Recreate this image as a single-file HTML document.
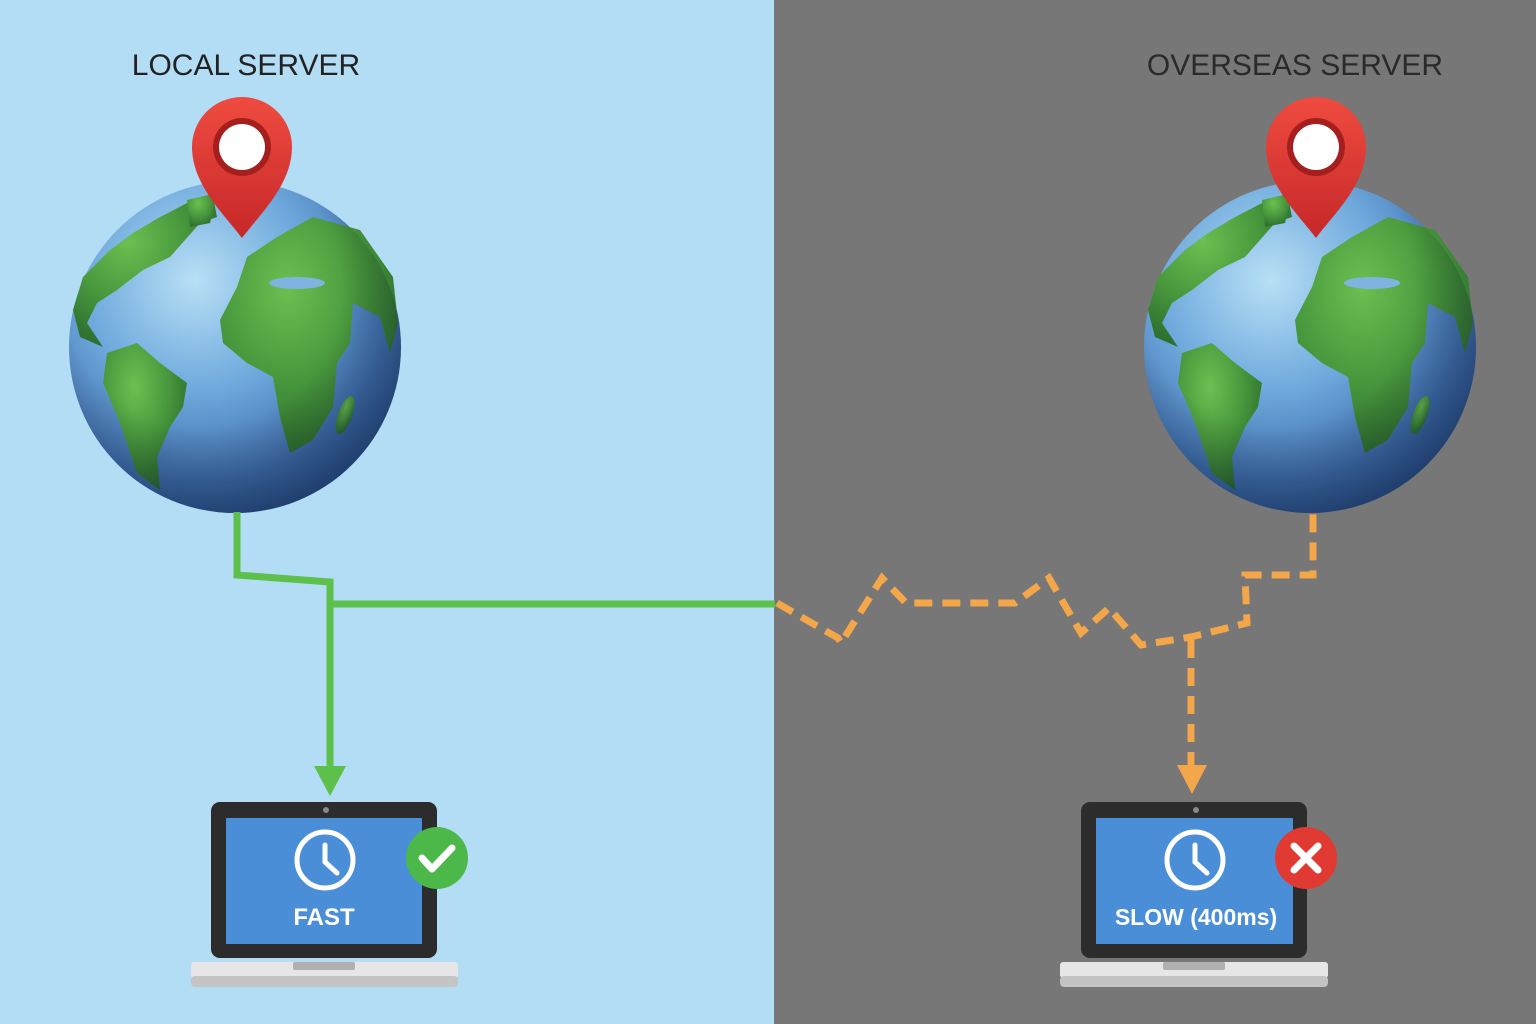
<!DOCTYPE html>
<html><head><meta charset="utf-8"><style>
html,body{margin:0;padding:0;width:1536px;height:1024px;overflow:hidden}
svg{display:block}
</style></head><body>
<svg width="1536" height="1024" viewBox="0 0 1536 1024" xmlns="http://www.w3.org/2000/svg">
<defs>
<radialGradient id="ocean" cx="0.38" cy="0.3" r="0.75">
<stop offset="0" stop-color="#b8e0f6"/><stop offset="0.45" stop-color="#6ea8dc"/><stop offset="0.8" stop-color="#3f6fae"/><stop offset="1" stop-color="#2a4f86"/></radialGradient>
<radialGradient id="land" cx="0.38" cy="0.3" r="0.75">
<stop offset="0" stop-color="#6cbf50"/><stop offset="0.5" stop-color="#4a9a3e"/><stop offset="1" stop-color="#2a6a2c"/></radialGradient>
<radialGradient id="shade" cx="0.4" cy="0.32" r="0.7">
<stop offset="0.6" stop-color="#000" stop-opacity="0"/><stop offset="1" stop-color="#0a1a3a" stop-opacity="0.35"/></radialGradient>
<linearGradient id="pinG" x1="0" y1="0" x2="0" y2="1"><stop offset="0" stop-color="#ef4b40"/><stop offset="1" stop-color="#c62828"/></linearGradient>
<g id="globe">
<circle r="166" fill="url(#ocean)"/>
<g fill="url(#land)">
<path d="M2,-60 L12,-90 L42,-110 L78,-130 L125,-117 L158,-70 L163,-24 L155,6 L145,-30 L118,-44 L115,-4 L102,16 L98,60 L78,93 L55,106 L45,70 L38,30 L12,16 L-12,-4 L-15,-27 Z"/>
<path d="M-102,-114 L-75,-130 L-42,-147 L-22,-150 L-18,-130 L-35,-124 L-65,-90 L-92,-77 L-118,-57 L-138,-44 L-148,-24 L-132,0 L-155,-10 L-162,-37 L-152,-70 L-125,-97 Z"/>
<path d="M-128,6 L-98,-4 L-75,16 L-48,36 L-52,60 L-65,80 L-78,110 L-75,143 L-98,126 L-115,76 L-132,36 Z"/>
<path d="M-48,-147 L-18,-154 L-25,-124 L-45,-120 Z"/>
<ellipse cx="110" cy="68" rx="7" ry="20" transform="rotate(20 110 68)"/>
</g>
<ellipse cx="62" cy="-64" rx="28" ry="6" fill="#7fb4e0"/>
<circle r="166" fill="url(#shade)"/>
</g>
<g id="pin">
<path d="M0,91 C-17,68 -50,38 -50,0 A50,50 0 1 1 50,0 C50,38 17,68 0,91 Z" fill="url(#pinG)"/>
<circle r="29" fill="#a51f1f"/><circle r="23" fill="#fff"/>
</g>
<g id="clock" fill="none" stroke="#fff" stroke-width="5" stroke-linecap="round">
<circle r="28"/><path d="M0,-15 L0,2 L12,13"/>
</g>
</defs>
<rect x="0" y="0" width="774" height="1024" fill="#b3dcf5"/>
<rect x="774" y="0" width="762" height="1024" fill="#777777"/>
<text x="246" y="75" font-family="Liberation Sans, sans-serif" font-size="30" fill="#222" text-anchor="middle">LOCAL SERVER</text>
<text x="1295" y="75" font-family="Liberation Sans, sans-serif" font-size="30" fill="#2a2a2a" text-anchor="middle">OVERSEAS SERVER</text>
<use href="#globe" transform="translate(235,347)"/>
<use href="#globe" transform="translate(1310,347)"/>
<use href="#pin" transform="translate(242,147)"/>
<use href="#pin" transform="translate(1316,147)"/>
<!-- green connector -->
<g fill="none" stroke="#5cc04a" stroke-width="7">
<path d="M237,512 L237,575 L330,582 L330,770"/>
<path d="M330,604 L775,604"/>
</g>
<path d="M314,766 L346,766 L330,796 Z" fill="#5cc04a"/>
<!-- orange dashed -->
<g fill="none" stroke="#f3a64a" stroke-width="7" stroke-dasharray="18,10">
<path d="M777,603 L838,638 L841,643 L882,578 L906,603 L1015,603 L1049,578 L1081,633 L1109,608 L1141,645 L1191,637 L1247,623 L1245,575 L1313,575 L1313,512"/>
<path d="M1191,640 L1191,765"/>
</g>
<path d="M1177,765 L1207,765 L1192,794 Z" fill="#f3a64a"/>
<!-- left laptop -->
<rect x="211" y="802" width="226" height="156" rx="9" fill="#2c2c2c"/>
<rect x="226" y="818" width="196" height="126" fill="#4a8ed8"/>
<circle cx="326" cy="810" r="3" fill="#888"/>
<rect x="191" y="962" width="267" height="16" rx="3" fill="#e6e6e6"/>
<rect x="191" y="976" width="267" height="11" rx="4" fill="#c4c4c4"/>
<rect x="293" y="962" width="62" height="8" rx="2" fill="#b0b0b0"/>
<use href="#clock" transform="translate(325,860)"/>
<text x="324" y="925" font-family="Liberation Sans, sans-serif" font-weight="bold" font-size="24" fill="#fff" text-anchor="middle">FAST</text>
<circle cx="437" cy="858" r="31" fill="#4cb84a"/>
<path d="M422,858 L432,869 L452,848" fill="none" stroke="#fff" stroke-width="7" stroke-linecap="round" stroke-linejoin="round"/>
<!-- right laptop -->
<rect x="1081" y="802" width="226" height="156" rx="9" fill="#2c2c2c"/>
<rect x="1096" y="818" width="197" height="126" fill="#4a8ed8"/>
<circle cx="1196" cy="810" r="3" fill="#888"/>
<rect x="1060" y="962" width="268" height="16" rx="3" fill="#e6e6e6"/>
<rect x="1060" y="976" width="268" height="11" rx="4" fill="#c4c4c4"/>
<rect x="1163" y="962" width="62" height="8" rx="2" fill="#b0b0b0"/>
<use href="#clock" transform="translate(1195,860)"/>
<text x="1196" y="925" font-family="Liberation Sans, sans-serif" font-weight="bold" font-size="23" fill="#fff" text-anchor="middle">SLOW (400ms)</text>
<circle cx="1306" cy="858" r="31" fill="#e03a32"/>
<path d="M1294,846 L1318,870 M1318,846 L1294,870" stroke="#fff" stroke-width="7" stroke-linecap="round"/>
</svg>
</body></html>
